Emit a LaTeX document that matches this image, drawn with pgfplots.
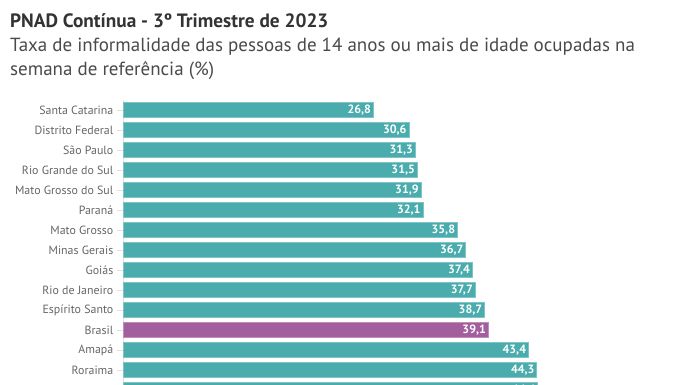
\documentclass[border=0pt]{standalone}
\usepackage{fontspec}
\setmainfont{PT Sans}
\usepackage{pgfplots}
\pgfplotsset{compat=1.18}
\definecolor{teal1}{HTML}{4AACAC}
\definecolor{purp}{HTML}{A35E9E}
\definecolor{titlec}{HTML}{333333}
\definecolor{subc}{HTML}{4A4A4A}
\definecolor{labc}{HTML}{666666}
\definecolor{linec}{HTML}{E2E2E2}
\begin{document}
\begin{tikzpicture}[x=1pt,y=1pt]
\useasboundingbox (0,0) rectangle (696pt,-385pt);
\clip (0,0) rectangle (696pt,-385pt);
\fill[white] (0,0) rectangle (696pt,-385pt);
\node[anchor=base west, inner sep=0, font=\fontsize{19.3}{21}\selectfont\bfseries, text=titlec] at (10pt,-28pt) {PNAD Contínua - 3º Trimestre de 2023};
\node[anchor=base west, inner sep=0, font=\fontsize{19}{21}\selectfont, text=subc] at (10pt,-52pt) {Taxa de informalidade das pessoas de 14 anos ou mais de idade ocupadas na};
\node[anchor=base west, inner sep=0, font=\fontsize{19}{21}\selectfont, text=subc] at (10pt,-76pt) {semana de referência (\%)};
\begin{axis}[
  at={(123pt,-100pt)}, anchor=north west,
  scale only axis, width=467pt, height=300pt,
  xmin=0, xmax=50, ymin=-14.5, ymax=0.5,
  xbar, bar width=15pt, bar shift=0pt,
  axis x line=none, axis y line*=left,
  axis line style={linec, line width=0.8pt},
  ytick={-14,...,0},
  yticklabels={Tocantins, Roraima, Amapá, Brasil, Espírito Santo, Rio de Janeiro, Goiás, Minas Gerais, Mato Grosso, Paraná, Mato Grosso do Sul, Rio Grande do Sul, São Paulo, Distrito Federal, Santa Catarina},
  tick align=outside, major tick length=6pt,
  ytick style={linec, line width=0.8pt},
  yticklabel style={font=\fontsize{11.9}{14}\selectfont, text=labc, inner sep=0pt, xshift=-3.5pt},
  point meta=x,
  nodes near coords={\pgfmathprintnumber[fixed,fixed zerofill,precision=1,use comma,assume math mode=true]{\pgfplotspointmeta}},
  every node near coord/.append style={anchor=east, font=\fontsize{12}{14}\selectfont\bfseries, text=white, inner sep=2pt},
  clip=false,
]
\addplot[fill=teal1, draw=teal1!70!white, line width=0.6pt] coordinates {
 (26.8,0) (30.6,-1) (31.3,-2) (31.5,-3) (31.9,-4) (32.1,-5) (35.8,-6) (36.7,-7) (37.4,-8) (37.7,-9) (38.7,-10) (43.4,-12) (44.3,-13) (44.4,-14)
};
\addplot[fill=purp, draw=purp!70!white, line width=0.6pt] coordinates {(39.1,-11)};
\end{axis}
\end{tikzpicture}
\end{document}
